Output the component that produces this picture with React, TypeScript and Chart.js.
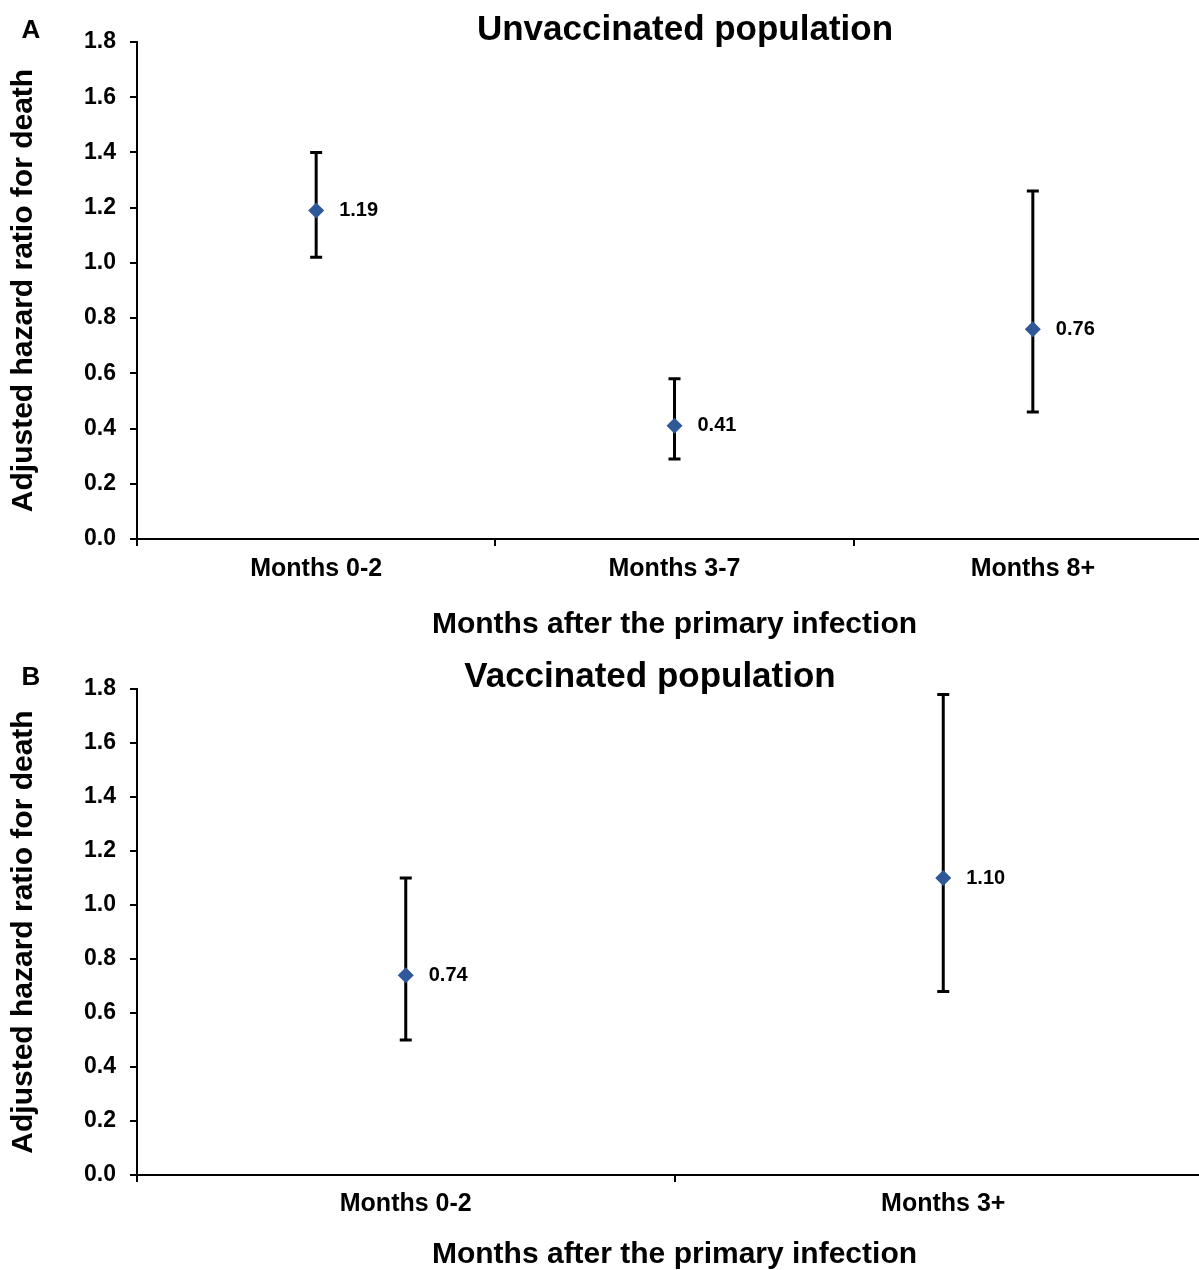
import { useEffect, useRef } from "react";
import { Chart, registerables } from "chart.js";

Chart.register(...registerables);

const FONT = "'Liberation Sans', Arial, Helvetica, sans-serif";

// Panel A – unvaccinated population
const unvacCategories = ["Months 0-2", "Months 3-7", "Months 8+"];
const unvacHR = [1.19, 0.41, 0.76];
const unvacLower = [1.02, 0.29, 0.46];
const unvacUpper = [1.4, 0.58, 1.26];

// Panel B – vaccinated population
const vacCategories = ["Months 0-2", "Months 3+"];
const vacHR = [0.74, 1.1];
const vacLower = [0.5, 0.68];
const vacUpper = [1.1, 1.78];

const yMin = 0;
const yMax = 1.8;
const yStep = 0.2;

const titleA = "Unvaccinated population";
const titleB = "Vaccinated population";
const xAxisTitle = "Months after the primary infection";
const yAxisTitle = "Adjusted hazard ratio for death";

const POINT_COLOR = "#2f5899";

const errorBarPlugin = {
  id: "errorBars",
  beforeDatasetsDraw(chart: any, _args: any, opts: any) {
    const { ctx, scales } = chart;
    const xs = scales.x;
    const ys = scales.y;
    ctx.save();
    ctx.strokeStyle = "#000";
    ctx.lineWidth = 3;
    ctx.lineCap = "butt";
    (opts.lower as number[]).forEach((lo: number, i: number) => {
      const hi = (opts.upper as number[])[i];
      const x = xs.getPixelForValue(i);
      const yLo = ys.getPixelForValue(lo);
      const yHi = ys.getPixelForValue(hi);
      ctx.beginPath();
      ctx.moveTo(x, yLo);
      ctx.lineTo(x, yHi);
      ctx.moveTo(x - 6, yLo);
      ctx.lineTo(x + 6, yLo);
      ctx.moveTo(x - 6, yHi);
      ctx.lineTo(x + 6, yHi);
      ctx.stroke();
    });
    ctx.restore();
  },
  afterDatasetsDraw(chart: any) {
    const { ctx } = chart;
    const meta = chart.getDatasetMeta(0);
    const data = chart.data.datasets[0].data as number[];
    ctx.save();
    ctx.fillStyle = "#000";
    ctx.font = `bold 20px ${FONT}`;
    ctx.textAlign = "left";
    ctx.textBaseline = "middle";
    meta.data.forEach((pt: any, i: number) => {
      ctx.fillText(data[i].toFixed(2), pt.x + 23, pt.y);
    });
    ctx.restore();
  },
  afterDraw(chart: any, _args: any, opts: any) {
    const { ctx } = chart;
    ctx.save();
    ctx.fillStyle = "#000";
    // panel letter
    ctx.font = `bold 26px ${FONT}`;
    ctx.textAlign = "center";
    ctx.textBaseline = "alphabetic";
    ctx.fillText(opts.letter, opts.letterX, opts.letterY);
    // panel title
    ctx.font = `bold 35px ${FONT}`;
    ctx.textAlign = "center";
    ctx.textBaseline = "middle";
    ctx.fillText(opts.title, opts.titleX, opts.titleY);
    ctx.restore();
  },
};

function makeConfig(
  categories: string[],
  values: number[],
  lower: number[],
  upper: number[],
  title: string,
  titleX: number,
  titleY: number,
  letter: string,
  letterY: number,
  canvasW: number,
  plotTop: number,
  xAxisHeight: number,
  xTickPad: number
): any {
  const plotRight = 1212;
  return {
    type: "line",
    data: {
      labels: categories,
      datasets: [
        {
          data: values,
          showLine: false,
          pointStyle: "rectRot",
          pointRadius: 8,
          pointBorderWidth: 0,
          pointBackgroundColor: POINT_COLOR,
          pointBorderColor: POINT_COLOR,
        },
      ],
    },
    options: {
      responsive: false,
      animation: false,
      devicePixelRatio: 1,
      layout: { padding: { left: 0, right: canvasW - plotRight, top: plotTop, bottom: 0 } },
      plugins: {
        legend: { display: false },
        tooltip: { enabled: false },
        title: { display: false },
        errorBars: { lower, upper, letter, letterX: 31, letterY, title, titleX, titleY },
      },
      scales: {
        x: {
          type: "category",
          offset: true,
          border: { display: true, color: "#000", width: 2 },
          grid: {
            display: true,
            offset: true,
            drawOnChartArea: false,
            drawTicks: true,
            tickLength: 7,
            color: "#000",
            lineWidth: 2,
          },
          ticks: {
            color: "#000",
            padding: xTickPad,
            font: { family: FONT, size: 25, weight: "bold", lineHeight: 1.2 },
            maxRotation: 0,
            autoSkip: false,
          },
          title: {
            display: true,
            text: xAxisTitle,
            color: "#000",
            font: { family: FONT, size: 30, weight: "bold", lineHeight: 1.2 },
            padding: { top: 0, bottom: 2 },
          },
          afterFit: (s: any) => {
            s.height = xAxisHeight;
          },
        },
        y: {
          type: "linear",
          min: yMin,
          max: yMax,
          border: { display: true, color: "#000", width: 2 },
          grid: {
            display: true,
            drawOnChartArea: false,
            drawTicks: true,
            tickLength: 7,
            color: "#000",
            lineWidth: 2,
          },
          ticks: {
            stepSize: yStep,
            color: "#000",
            padding: 14,
            font: { family: FONT, size: 23, weight: "bold", lineHeight: 1.2 },
            callback: (v: any) => Number(v).toFixed(1),
          },
          title: {
            display: true,
            text: yAxisTitle,
            color: "#000",
            font: { family: FONT, size: 30, weight: "bold", lineHeight: 1.2 },
            padding: { top: 6, bottom: 0 },
          },
          afterFit: (s: any) => {
            s.width = 137;
          },
        },
      },
    },
    plugins: [errorBarPlugin],
  };
}

const A_W = 1220;
const A_H = 645;
const B_W = 1220;
const B_H = 630;
const B_TOP = 645;

export default function App() {
  const refA = useRef<HTMLCanvasElement | null>(null);
  const refB = useRef<HTMLCanvasElement | null>(null);

  useEffect(() => {
    const chartA = new Chart(
      refA.current as HTMLCanvasElement,
      makeConfig(unvacCategories, unvacHR, unvacLower, unvacUpper, titleA, 685, 30, "A", 38, A_W, 42, 106, 8)
    );
    const chartB = new Chart(
      refB.current as HTMLCanvasElement,
      makeConfig(vacCategories, vacHR, vacLower, vacUpper, titleB, 650, 32, "B", 40, B_W, 44, 100, 7)
    );
    return () => {
      chartA.destroy();
      chartB.destroy();
    };
  }, []);

  return (
    <div
      style={{
        position: "absolute",
        left: 0,
        top: 0,
        width: 1199,
        height: 1270,
        overflow: "hidden",
        background: "#fff",
      }}
    >
      <canvas
        ref={refA}
        width={A_W}
        height={A_H}
        style={{ position: "absolute", left: 0, top: 0, width: A_W, height: A_H }}
      />
      <canvas
        ref={refB}
        width={B_W}
        height={B_H}
        style={{ position: "absolute", left: 0, top: B_TOP, width: B_W, height: B_H }}
      />
    </div>
  );
}
